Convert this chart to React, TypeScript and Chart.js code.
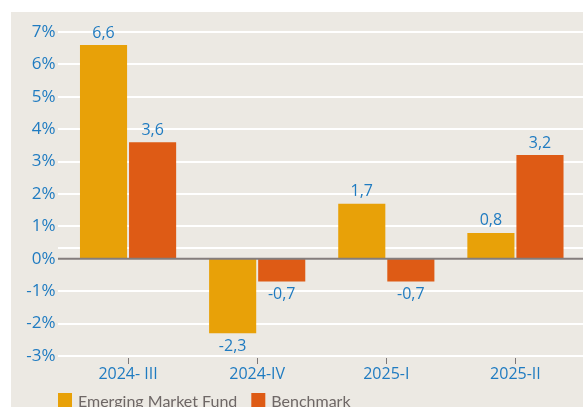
import React, { useEffect, useRef } from "react";
import { Chart, registerables } from "chart.js";

Chart.register(...registerables);

const categories = ["2024- III", "2024-IV", "2025-I", "2025-II"];
const fundValues = [6.6, -2.3, 1.7, 0.8];
const benchmarkValues = [3.6, -0.7, -0.7, 3.2];
const seriesNames = ["Emerging Market Fund", "Benchmark"];
const gridValues = [-3, -2, -1, 0.33, 1, 2, 3, 4, 5, 6, 7];

const FONT = "'Open Sans', 'Noto Sans', sans-serif";
const LEGEND_FONT = "Lato, 'Open Sans', sans-serif";
const BLUE = "#1f7bc1";
const ORANGE = "#e8a108";
const RED = "#de5b15";
const BG = "#ece9e3";

const fmt = (v: number) => v.toFixed(1).replace(".", ",");

const decorPlugin = {
  id: "decor",
  beforeDraw(chart: any) {
    const { ctx, width, height } = chart;
    ctx.save();
    ctx.fillStyle = "#ffffff";
    ctx.fillRect(0, 0, width, height);
    ctx.fillStyle = BG;
    ctx.fillRect(11, 12, width - 11, height - 12);
    ctx.restore();
  },
  beforeDatasetsDraw(chart: any) {
    const { ctx, width } = chart;
    const y = chart.scales.y;
    const x = chart.scales.x;
    ctx.save();
    ctx.strokeStyle = "#ffffff";
    ctx.lineWidth = 2;
    gridValues.forEach((v) => {
      const py = Math.round(y.getPixelForValue(v));
      ctx.beginPath();
      ctx.moveTo(58, py);
      ctx.lineTo(width, py);
      ctx.stroke();
    });
    const bottom = Math.round(y.getPixelForValue(-3));
    ctx.strokeStyle = "#7d7777";
    ctx.lineWidth = 1;
    categories.forEach((_, i) => {
      const px = Math.round(x.getPixelForValue(i)) + 0.5;
      ctx.beginPath();
      ctx.moveTo(px, bottom + 2);
      ctx.lineTo(px, bottom + 8);
      ctx.stroke();
    });
    ctx.restore();
  },
  afterDatasetsDraw(chart: any) {
    const { ctx, width } = chart;
    const y = chart.scales.y;
    ctx.save();
    const zy = y.getPixelForValue(0);
    ctx.strokeStyle = "#847d7c";
    ctx.lineWidth = 2;
    ctx.beginPath();
    ctx.moveTo(58, zy);
    ctx.lineTo(width, zy);
    ctx.stroke();
    ctx.font = `16px ${FONT}`;
    ctx.fillStyle = BLUE;
    ctx.textAlign = "center";
    ctx.textBaseline = "middle";
    chart.data.datasets.forEach((ds: any, di: number) => {
      const meta = chart.getDatasetMeta(di);
      meta.data.forEach((bar: any, i: number) => {
        const v = ds.data[i];
        const py = v >= 0 ? bar.y - 12 : bar.y + 13;
        ctx.fillText(fmt(v), bar.x, py);
      });
    });
    ctx.font = `16px ${LEGEND_FONT}`;
    ctx.textAlign = "left";
    ctx.textBaseline = "alphabetic";
    let lx = 58;
    const ly = 393;
    seriesNames.forEach((name, i) => {
      ctx.fillStyle = i === 0 ? ORANGE : RED;
      ctx.fillRect(lx, ly, 14, 16);
      ctx.fillStyle = "#6e6766";
      ctx.fillText(name, lx + 20, ly + 14);
      lx += 20 + ctx.measureText(name).width + 14;
    });
    ctx.restore();
  },
};

export default function App() {
  const ref = useRef<HTMLCanvasElement | null>(null);
  useEffect(() => {
    if (!ref.current) return;
    const chart = new Chart(ref.current, {
      type: "bar",
      data: {
        labels: categories,
        datasets: [
          { label: seriesNames[0], data: fundValues, backgroundColor: ORANGE },
          { label: seriesNames[1], data: benchmarkValues, backgroundColor: RED },
        ],
      },
      options: {
        animation: false,
        responsive: false,
        maintainAspectRatio: false,
        layout: { padding: { top: 32, right: 3, bottom: 0, left: 0 } },
        datasets: {
          bar: { categoryPercentage: 0.76, barPercentage: 0.96 },
        },
        plugins: {
          legend: { display: false },
          tooltip: { enabled: false },
        },
        scales: {
          x: {
            grid: { display: false, drawTicks: false },
            border: { display: false },
            ticks: {
              color: BLUE,
              font: { family: FONT, size: 16 },
              padding: 9,
            },
            afterFit(scale: any) {
              scale.height = 51;
            },
          },
          y: {
            min: -3,
            max: 7,
            grid: { display: false, drawTicks: false },
            border: { display: false },
            ticks: {
              stepSize: 1,
              color: BLUE,
              font: { family: FONT, size: 17 },
              padding: 8,
              callback: (v: any) => `${v}%`,
            },
            afterFit(scale: any) {
              scale.width = 63.5;
            },
          },
        },
      },
      plugins: [decorPlugin],
    });
    return () => chart.destroy();
  }, []);
  return (
    <div style={{ position: "fixed", left: 0, top: 0, width: 583, height: 407 }}>
      <canvas ref={ref} width={583} height={407} style={{ display: "block" }} />
    </div>
  );
}
